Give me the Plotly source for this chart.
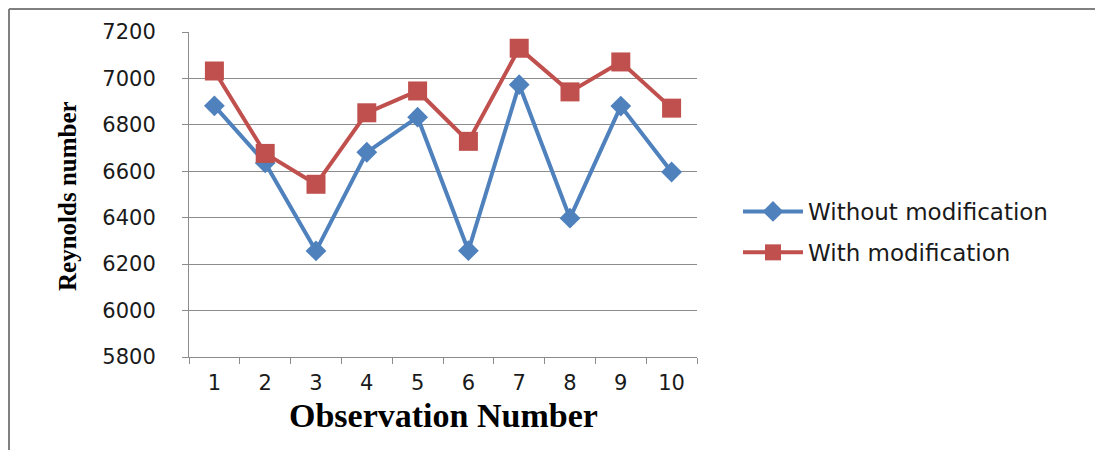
import plotly.graph_objects as go

# Observation numbers and Reynolds numbers for both configurations
observations = ["1", "2", "3", "4", "5", "6", "7", "8", "9", "10"]
without_mod = [6882, 6636, 6257, 6682, 6833, 6258, 6973, 6398, 6881, 6597]
with_mod = [7032, 6677, 6544, 6852, 6946, 6729, 7130, 6942, 7071, 6872]

W, H = 1095, 450
L, R, T, B = 189, 697, 32, 357   # plot area in pixels


def px(x):
    return (x - L) / (R - L)


def py(y):
    return (B - y) / (B - T)


blue = "#4F81BD"
red = "#C0504D"
grid = "#8C8C8C"
tick_font = dict(family="DejaVu Sans", size=21, color="#1a1a1a")

fig = go.Figure()
fig.add_trace(go.Scatter(
    x=observations, y=without_mod, name="Without modification",
    mode="lines+markers", legendgroup="a",
    line=dict(color=blue, width=4),
    marker=dict(symbol="diamond", size=16, color=blue),
))
fig.add_trace(go.Scatter(
    x=observations, y=with_mod, name="With modification",
    mode="lines+markers", legendgroup="b",
    line=dict(color=red, width=4),
    marker=dict(symbol="square", size=19, color=red),
))

fig.update_layout(
    width=W, height=H,
    margin=dict(l=L, r=W - R, t=T, b=H - B, pad=0),
    paper_bgcolor="white", plot_bgcolor="white",
    showlegend=True,
    legend=dict(
        x=px(738), y=py(232), xanchor="left", yanchor="middle",
        font=dict(family="DejaVu Sans", size=23, color="#1a1a1a"),
        tracegroupgap=8, itemwidth=60, bgcolor="rgba(0,0,0,0)",
    ),
    xaxis=dict(
        type="category", range=[-0.5, 9.5],
        showgrid=False, showline=True, linecolor=grid, linewidth=1,
        ticks="outside", tickson="boundaries", ticklen=6, tickcolor=grid,
        tickfont=tick_font, ticklabelstandoff=7,
    ),
    yaxis=dict(
        range=[5800, 7200], dtick=200, tick0=5800,
        showgrid=True, gridcolor=grid, gridwidth=1,
        showline=True, linecolor=grid, linewidth=1,
        ticks="outside", ticklen=6, tickcolor=grid,
        tickfont=tick_font, ticklabelstandoff=22, zeroline=False,
    ),
    annotations=[
        dict(text="<b>Reynolds number</b>", x=px(67), y=py(196),
             xref="paper", yref="paper", showarrow=False, textangle=-90,
             xanchor="center", yanchor="middle",
             font=dict(family="Liberation Serif", size=25, color="black")),
        dict(text="<b>Observation Number</b>", x=0.5, y=py(415),
             xref="paper", yref="paper", showarrow=False,
             xanchor="center", yanchor="middle",
             font=dict(family="Liberation Serif", size=34, color="black")),
    ],
    shapes=[
        dict(type="line", xref="paper", yref="paper",
             x0=px(9), x1=px(1096), y0=py(9), y1=py(9),
             line=dict(color="#808080", width=2)),
        dict(type="line", xref="paper", yref="paper",
             x0=px(9), x1=px(9), y0=py(9), y1=py(452),
             line=dict(color="#808080", width=2)),
    ],
)

fig.write_html("out.html")
